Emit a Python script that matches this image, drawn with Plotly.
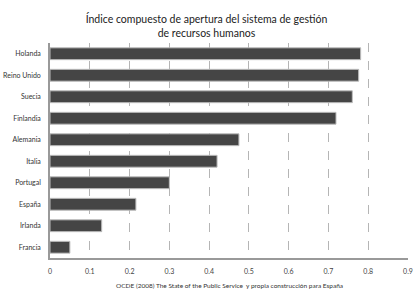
import plotly.graph_objects as go

countries = ["Holanda", "Reino Unido", "Suecia", "Finlandia", "Alemania",
             "Italia", "Portugal", "España", "Irlanda", "Francia"]
values = [0.781, 0.776, 0.760, 0.719, 0.475, 0.420, 0.300, 0.216, 0.130, 0.050]
x_ticks = [0, 0.1, 0.2, 0.3, 0.4, 0.5, 0.6, 0.7, 0.8, 0.9]
x_tick_labels = ["0", "0.1", "0.2", "0.3", "0.4", "0.5", "0.6", "0.7", "0.8", "0.9"]

font_family = "Lato, Open Sans, sans-serif"

fig = go.Figure(go.Bar(
    y=countries, x=values, orientation="h",
    marker=dict(color="#454545", line=dict(color="#bdbdbd", width=1)),
    width=0.55,
))

fig.update_layout(
    width=413, height=289,
    margin=dict(l=50, r=5, t=43, b=31),
    paper_bgcolor="white", plot_bgcolor="white",
    showlegend=False,
    font=dict(family=font_family, size=7, color="#333"),
    title=dict(
        text="Índice compuesto de apertura del sistema de gestión<br>de recursos humanos",
        x=0.5, xanchor="center", yref="container", y=1 - 23 / 289, yanchor="middle",
        font=dict(family=font_family, size=10.5, color="#222"),
    ),
    xaxis=dict(
        range=[0, 0.9], tickvals=x_ticks, ticktext=x_tick_labels,
        showgrid=True, gridcolor="#b5b5b5", griddash="dash", gridwidth=1,
        showline=True, linecolor="#999", linewidth=1.5,
        zeroline=False, ticks="", ticklabelstandoff=6,
        tickfont=dict(size=7, color="#444"),
        automargin=False,
    ),
    yaxis=dict(
        categoryorder="array", categoryarray=countries[::-1],
        showline=True, linecolor="#999", linewidth=1.5,
        showgrid=False, ticks="", ticklabelstandoff=6,
        tickfont=dict(size=7, color="#333"),
        range=[-0.5, 9.5],
        automargin=False,
    ),
    annotations=[dict(
        text="OCDE (2008) The State of the Public Service  y propia construcción para España",
        x=0.5, xref="paper", y=-0.13, yref="paper", yanchor="middle",
        xanchor="center", showarrow=False,
        font=dict(size=6.5, color="#333"),
    )],
)

# remove the browser's default 8px body margin so the figure fills the window
fig.write_html("out.html", config={"displayModeBar": False},
               post_script="document.body.style.margin='0';")
